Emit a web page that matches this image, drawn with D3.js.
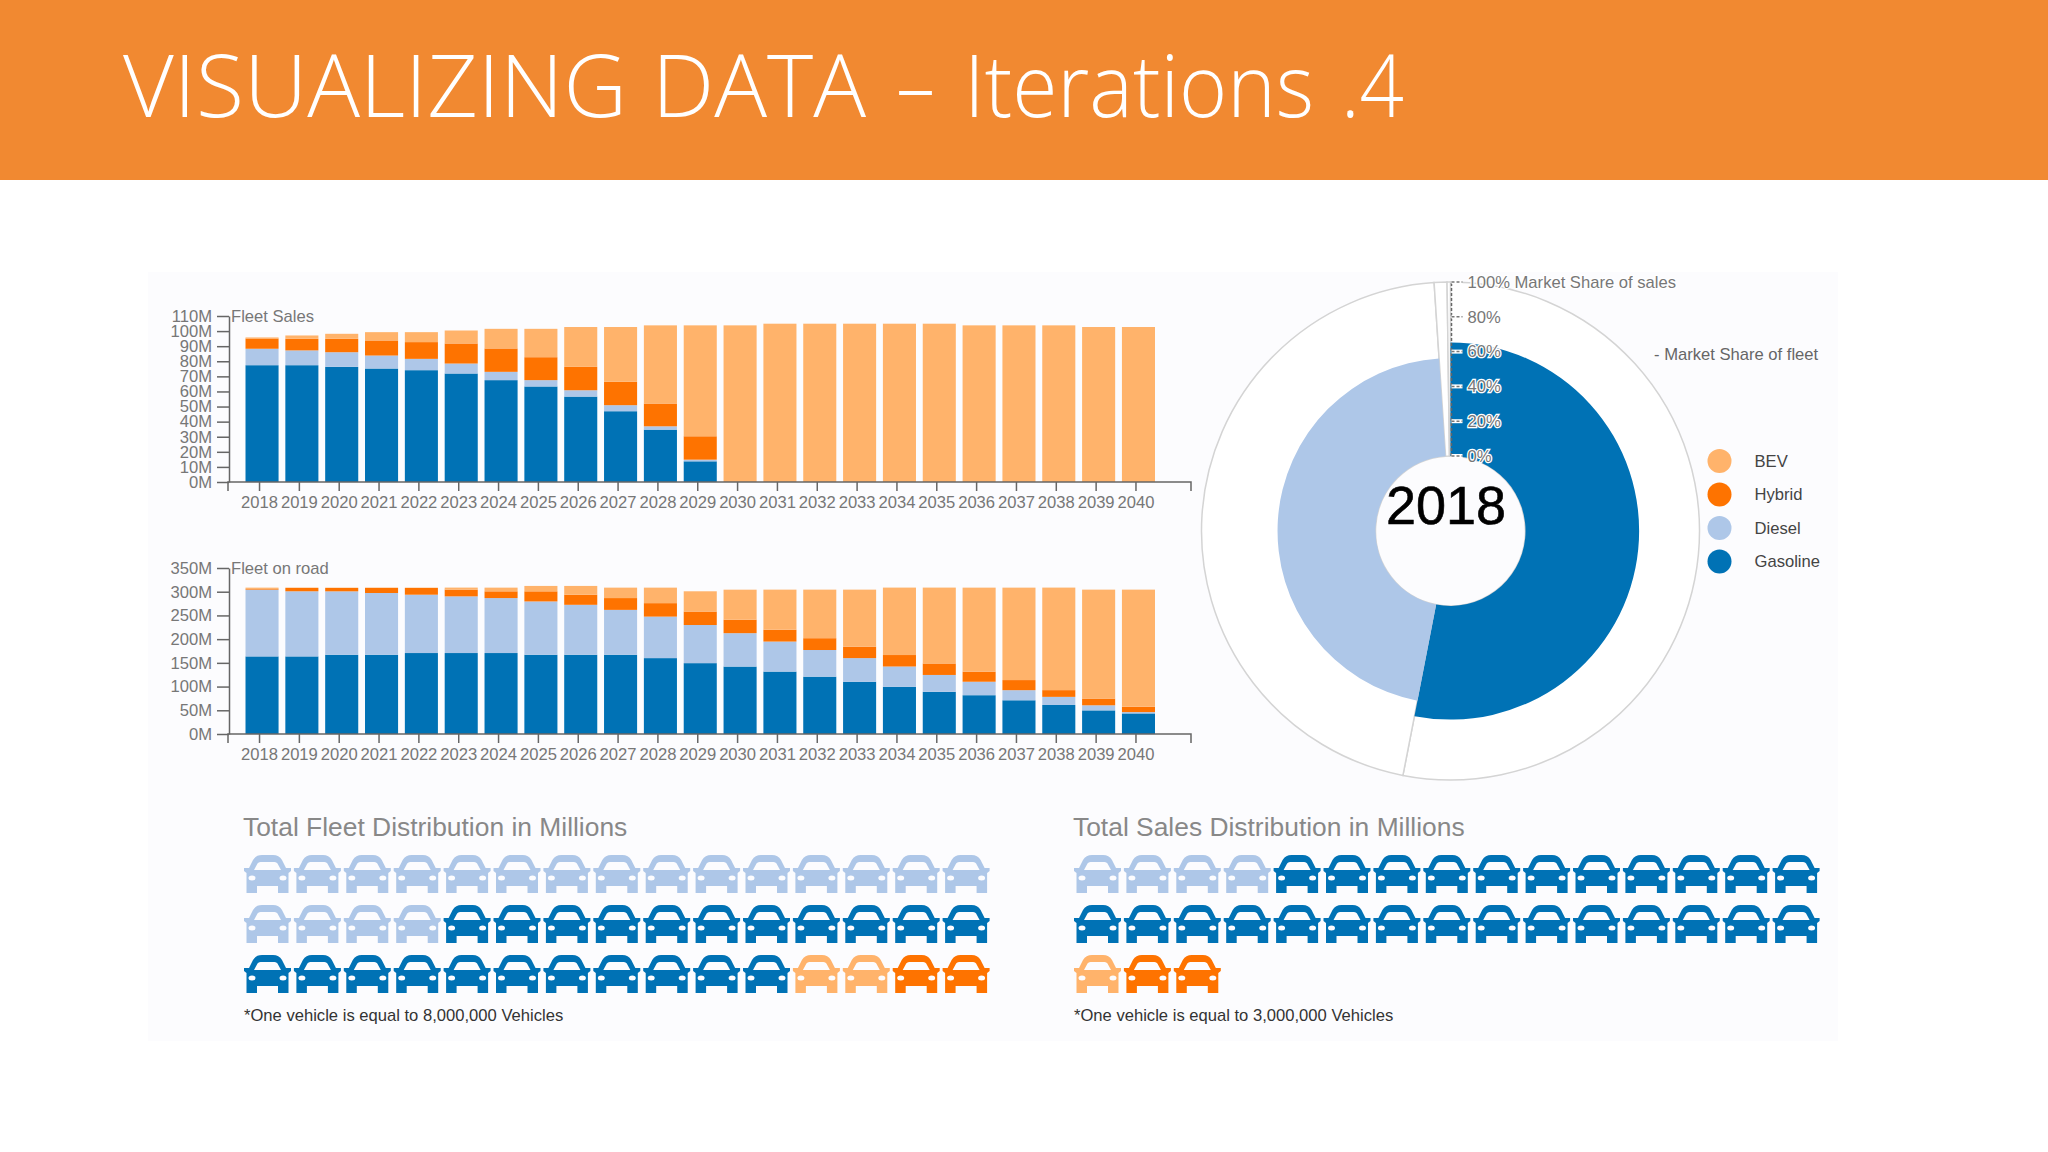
<!DOCTYPE html>
<html lang="en">

<head>
    <meta charset="UTF-8">
    <title>Visualizing Data - Iterations .4</title>
    <script src="https://d3js.org/d3.v7.min.js"></script>
    <style>
        html, body {
            margin: 0;
            background: #fff;
        }

        svg {
            display: block;
            font-family: 'Liberation Sans', Arial, sans-serif;
        }

        .axis text {
            font-size: 16.6px;
            fill: #777;
        }

        .axis line, .axis path {
            stroke: #666;
            stroke-width: 1.5;
            fill: none;
        }
    </style>
</head>

<body>
    <div id="chart"></div>

    <script>
        const years = d3.range(2018, 2041).map(String);
        const keys = ["Gasoline", "Diesel", "Hybrid", "BEV"];
        const legendKeys = ["BEV", "Hybrid", "Diesel", "Gasoline"];

        // Fleet sales, millions
        const salesGasoline = [77.4, 77.4, 76.3, 75.2, 74.1, 71.9, 67.5, 63.3, 56.6, 46.9, 34.7, 13.7, 0, 0, 0, 0, 0, 0, 0, 0, 0, 0, 0];
        const salesDiesel = [10.9, 9.8, 9.7, 8.6, 7.5, 6.6, 5.5, 4.2, 4.2, 4, 2.2, 1.1, 0, 0, 0, 0, 0, 0, 0, 0, 0, 0, 0];
        const salesHybrid = [6.8, 7.7, 8.9, 10, 11.1, 13.3, 15.5, 15.2, 15.5, 15.5, 15.1, 15.5, 0, 0, 0, 0, 0, 0, 0, 0, 0, 0, 0];
        const salesBev = [0.7, 2.2, 3.3, 5.5, 6.6, 8.6, 13, 18.8, 26.4, 36.3, 51.8, 73.5, 103.8, 104.9, 104.9, 104.9, 104.9, 104.9, 103.8, 103.8, 103.8, 102.7, 102.7];

        // Fleet on road, millions
        const roadGasoline = [163.6, 163.6, 167.1, 167.1, 170.7, 170.7, 170.7, 167.1, 167.1, 167.1, 160, 149.4, 142.2, 131.6, 120.9, 110.2, 99.6, 88.9, 81.8, 71.1, 61.2, 49.8, 43.4];
        const roadDiesel = [140.8, 137.3, 133.7, 130.2, 123, 119.5, 115.9, 112.4, 105.3, 94.6, 87.5, 80.4, 70.4, 63.3, 56.2, 49.8, 42.7, 35.6, 28.4, 21.3, 17.1, 10.7, 2.8];
        const roadHybrid = [1.4, 7.1, 7.1, 10.7, 14.2, 14.2, 14.2, 21.3, 21.3, 24.9, 28.4, 28.4, 28.4, 24.9, 24.9, 24.2, 24.2, 24.2, 21.3, 21.3, 14.2, 14.2, 11.4];
        const roadBev = [2.8, 0.7, 0.7, 0.7, 0.7, 4.3, 7.8, 11.4, 18.5, 22, 32.7, 42.7, 63.3, 84.6, 102.4, 120.2, 142.2, 160, 177.1, 194.9, 216.2, 229.7, 246.8];

        const salesTicks = d3.range(0, 111, 10);
        const roadTicks = d3.range(0, 351, 50);

        // 2018 donut: angle is the fleet share, radius reads off the % axis
        const donutAngles = [53.06, 45.89, 0.83, 0.22];
        const donutRadii = [65.3, 56.3, 0, 0];
        const shareTicks = [0, 20, 40, 60, 80, 100];

        // Unit charts, one icon = 8M / 3M vehicles
        const fleetOrder = ["Diesel", "Gasoline", "BEV", "Hybrid"];
        const fleetIcons = [19, 22, 2, 2];
        const salesOrder = ["Diesel", "Gasoline", "BEV", "Hybrid"];
        const salesIcons = [4, 26, 1, 2];

        const color = d3.scaleOrdinal()
            .domain(keys)
            .range(["#0072b5", "#aec7e8", "#fe7300", "#ffb36b"]);

        const svg = d3.select("#chart").append("svg")
            .attr("width", 2048)
            .attr("height", 1152);

        // Header, each word fitted to its own span
        svg.append("rect").attr("width", 2048).attr("height", 180).attr("fill", "#f18931");
        const titleWords = [
            ["VISUALIZING", 123, 504],
            ["DATA", 652, 214],
            ["–", 896, 39],
            ["Iterations", 964, 350],
            [".4", 1341, 63]
        ];
        svg.append("g").selectAll("text")
            .data(titleWords)
            .join("text")
            .attr("x", d => d[1])
            .attr("y", 117)
            .attr("textLength", d => d[2])
            .attr("lengthAdjust", "spacingAndGlyphs")
            .attr("font-family", "'Open Sans', sans-serif")
            .attr("font-weight", 300)
            .attr("font-size", 87)
            .attr("fill", "#fff")
            .text(d => d[0]);

        svg.append("rect")
            .attr("x", 148).attr("y", 272)
            .attr("width", 1690).attr("height", 769)
            .attr("fill", "#fcfcfe");

        // Stacked bar chart
        function barChart(title, cols, ticks, y0, y1) {
            const rows = years.map((year, i) => ({
                year: year,
                Gasoline: cols[0][i],
                Diesel: cols[1][i],
                Hybrid: cols[2][i],
                BEV: cols[3][i]
            }));

            const x = d3.scaleBand().domain(years).range([245.5, 1155]).paddingInner(0.17).paddingOuter(0);
            const y = d3.scaleLinear().domain(d3.extent(ticks)).range([y0, y1]);

            const layers = svg.append("g").selectAll("g")
                .data(d3.stack().keys(keys)(rows))
                .join("g")
                .attr("fill", d => color(d.key));

            layers.selectAll("rect")
                .data(d => d)
                .join("rect")
                .attr("x", d => x(d.data.year))
                .attr("width", x.bandwidth())
                .attr("y", d => y(d[1]))
                .attr("height", d => y(d[0]) - y(d[1]));

            // ticks sit a little left of the bar centres in the original
            const xAxis = svg.append("g")
                .attr("class", "axis")
                .attr("transform", `translate(-2.5,${y0})`)
                .call(d3.axisBottom(x).tickSize(9).tickPadding(5));
            xAxis.select(".domain").attr("d", "M230.5,9V0H1193.5V9");

            svg.append("g")
                .attr("class", "axis")
                .attr("transform", "translate(229,0)")
                .call(d3.axisLeft(y).tickValues(ticks).tickFormat(d => d + "M").tickSize(12).tickPadding(5).tickSizeOuter(0));

            svg.append("text")
                .attr("x", 231)
                .attr("y", y1 + 6)
                .attr("font-size", 16.6)
                .attr("fill", "#777")
                .text(title);
        }

        barChart("Fleet Sales", [salesGasoline, salesDiesel, salesHybrid, salesBev], salesTicks, 482, 316);
        barChart("Fleet on road", [roadGasoline, roadDiesel, roadHybrid, roadBev], roadTicks, 734, 568);

        // Donut
        const cx = 1450.5, cy = 531;
        const r = d3.scaleLinear().domain([0, 100]).range([75, 249]);
        const pie = d3.pie().sort(null).value(d => d)(donutAngles);
        const donut = svg.append("g").attr("transform", `translate(${cx},${cy})`);

        donut.selectAll("path.outer")
            .data(pie)
            .join("path")
            .attr("class", "outer")
            .attr("fill", "#fff")
            .attr("stroke", "#d4d4d4")
            .attr("stroke-width", 1.5)
            .attr("d", d3.arc().innerRadius(r(0)).outerRadius(r(100)));

        donut.selectAll("path.inner")
            .data(pie.filter((d, i) => donutRadii[i] > 0))
            .join("path")
            .attr("class", "inner")
            .attr("fill", (d, i) => color(keys[i]))
            .attr("d", (d, i) => d3.arc().innerRadius(r(0)).outerRadius(r(donutRadii[i]))(d));

        const shareAxis = donut.append("g").attr("transform", "translate(1,0)");
        shareAxis.append("line")
            .attr("y1", -r(0)).attr("y2", -r(100))
            .attr("stroke", "#666")
            .attr("stroke-width", 1.5)
            .attr("stroke-dasharray", "3,2");
        const shareTick = shareAxis.selectAll("g")
            .data(shareTicks)
            .join("g")
            .attr("transform", d => `translate(0,${-r(d)})`);
        shareTick.append("line")
            .attr("x2", 11)
            .attr("stroke", "#fff")
            .attr("stroke-width", 4);
        shareTick.append("line")
            .attr("x2", 11)
            .attr("stroke", "#777")
            .attr("stroke-width", 1.5)
            .attr("stroke-dasharray", "3,2");
        shareTick.append("text")
            .attr("x", 16)
            .attr("dy", "0.35em")
            .attr("font-size", 16.6)
            .attr("fill", "#777")
            .attr("stroke", "#fff")
            .attr("stroke-width", 2.5)
            .attr("paint-order", "stroke")
            .text(d => d === 100 ? "100% Market Share of sales" : d + "%");

        svg.append("text")
            .attr("x", 1654)
            .attr("y", 360)
            .attr("font-size", 16.6)
            .attr("fill", "#666")
            .text("- Market Share of fleet");

        svg.append("text")
            .attr("x", 1446)
            .attr("y", 524)
            .attr("text-anchor", "middle")
            .attr("font-size", 54)
            .attr("fill", "#000")
            .attr("stroke", "#000")
            .attr("stroke-width", 0.6)
            .text("2018");

        // Legend
        const legendY = d3.scalePoint().domain(legendKeys).range([461, 561.6]);
        const legend = svg.append("g").selectAll("g")
            .data(legendKeys)
            .join("g")
            .attr("transform", d => `translate(1719.5,${legendY(d)})`);
        legend.append("circle").attr("r", 12).attr("fill", d => color(d));
        legend.append("text")
            .attr("x", 35)
            .attr("dy", "0.35em")
            .attr("font-size", 16.6)
            .attr("fill", "#444")
            .text(d => d);

        // Car icon, holes for windshield and headlights
        const carPath = "M0,13H5L9,5C11,1.5 14,0 18,0H29C33,0 36,1.5 38,5L42,13H47V16L44.5,18V38H34V31H13V38H2.5V18L0,16Z"
            + "M10,15L13.5,8.5C14.5,7 16,7 18,7H29C31,7 32.5,7 33.5,8.5L37,15Z"
            + "M4.5,23a3.5,2.5 0 1,0 7,0a3.5,2.5 0 1,0 -7,0Z"
            + "M35.5,23a3.5,2.5 0 1,0 7,0a3.5,2.5 0 1,0 -7,0Z";

        function unitChart(title, note, order, counts, left) {
            const units = order.flatMap((k, i) => d3.range(counts[i]).map(() => k));
            const col = d3.scaleLinear().domain([0, 14]).range([left, left + 698.6]);
            const row = d3.scaleLinear().domain([0, 2]).range([855, 955]);

            svg.append("text")
                .attr("x", left - 1)
                .attr("y", 836)
                .attr("font-size", 26.4)
                .attr("fill", "#888")
                .text(title);

            svg.append("g").selectAll("path")
                .data(units)
                .join("path")
                .attr("d", carPath)
                .attr("fill-rule", "evenodd")
                .attr("fill", d => color(d))
                .attr("transform", (d, i) => `translate(${col(i % 15)},${row(Math.floor(i / 15))})`);

            svg.append("text")
                .attr("x", left)
                .attr("y", 1021)
                .attr("font-size", 16.6)
                .attr("fill", "#333")
                .text(note);
        }

        unitChart("Total Fleet Distribution in Millions", "*One vehicle is equal to 8,000,000 Vehicles", fleetOrder, fleetIcons, 244);
        unitChart("Total Sales Distribution in Millions", "*One vehicle is equal to 3,000,000 Vehicles", salesOrder, salesIcons, 1074);
    </script>
</body>

</html>
